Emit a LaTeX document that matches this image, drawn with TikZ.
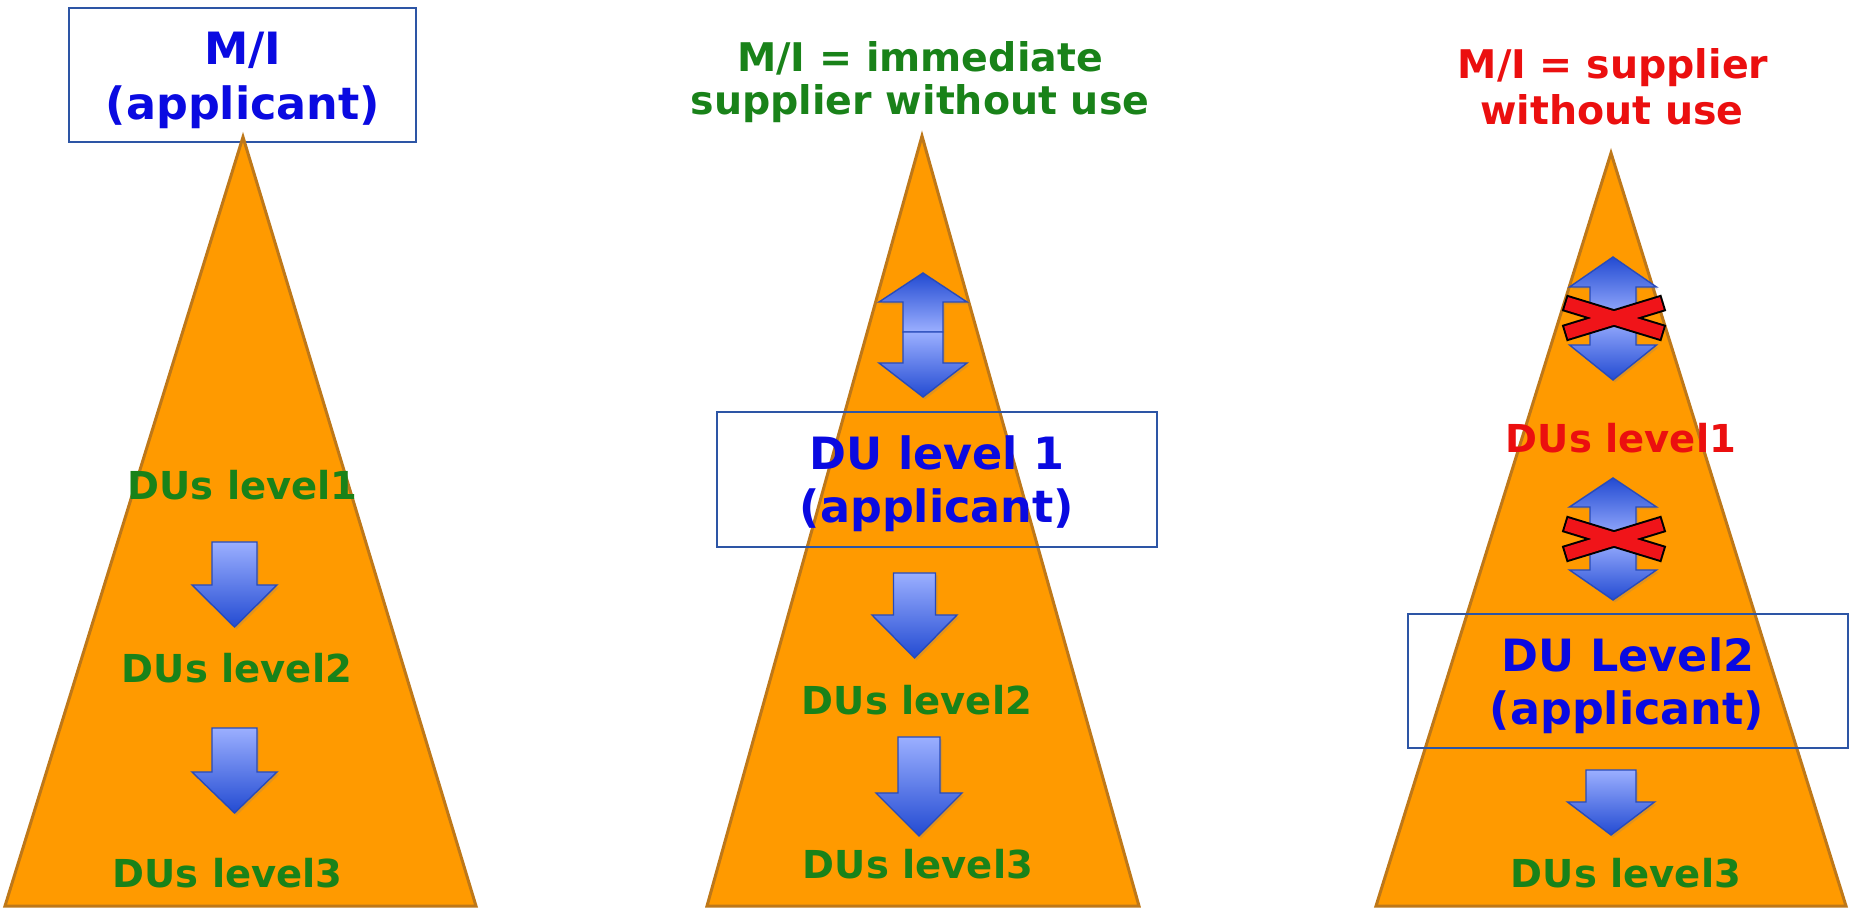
\documentclass[tikz,border=0pt]{standalone}
\usepackage{fontspec}
\setmainfont{DejaVu Sans}
\usetikzlibrary{shadows}
\definecolor{orfill}{RGB}{255,154,0}
\definecolor{orline}{RGB}{190,120,25}
\definecolor{boxline}{RGB}{45,85,165}
\definecolor{txtblue}{RGB}{10,10,225}
\definecolor{txtgreen}{RGB}{25,130,25}
\definecolor{txtred}{RGB}{235,15,15}
\definecolor{arrlight}{RGB}{155,175,255}
\definecolor{arrdark}{RGB}{35,75,210}
\definecolor{arrline}{RGB}{40,75,185}
\definecolor{xred}{RGB}{240,20,25}
\tikzset{
  tri/.style={fill=orfill, draw=orline, line width=1.5pt, line join=miter},
  frame/.style={draw=boxline, line width=1.2pt, inner sep=0pt},
  dnarrow/.style={draw=arrline, line width=0.7pt, top color=arrlight, bottom color=arrdark,
    drop shadow={opacity=0.25, shadow xshift=1pt, shadow yshift=-1.2pt}},
  uparrow/.style={draw=arrline, line width=0.7pt, top color=arrdark, bottom color=arrlight,
    drop shadow={opacity=0.25, shadow xshift=1pt, shadow yshift=-1.2pt}},
  boxtxt/.style={anchor=base, inner sep=0pt, text=txtblue, font=\fontsize{22.25}{26}\selectfont\bfseries},
  lbl/.style={anchor=base, inner sep=0pt, font=\fontsize{19.25}{23}\selectfont\bfseries},
  captxt/.style={anchor=base, inner sep=0pt, font=\fontsize{19.75}{23}\selectfont\bfseries},
  xbar/.style={line width=2pt, draw=black},
}
% style, cx, tail y, head base y, tip y, half shaft, half head
\newcommand\barrow[7]{%
  \path[#1] ({#2-#6},#3) -- ({#2-#6},#4) -- ({#2-#7},#4) -- (#2,#5) -- ({#2+#7},#4)
    -- ({#2+#6},#4) -- ({#2+#6},#3) -- cycle;}
\newcommand\crossmark[2]{%
  \begin{scope}[shift={(#1,#2)}]
    \draw[xbar, rotate=17] (-50,-6.5) rectangle (50,6.5);
    \draw[xbar, rotate=-17] (-50,-6.5) rectangle (50,6.5);
    \fill[xred, rotate=17] (-50,-6.5) rectangle (50,6.5);
    \fill[xred, rotate=-17] (-50,-6.5) rectangle (50,6.5);
  \end{scope}}
\begin{document}
\begin{tikzpicture}[x=0.5pt, y=-0.5pt]
\useasboundingbox (0,0) rectangle (1854,908);
% box 1 (white, behind apex)
\node[frame, fill=white, minimum width=173.5pt, minimum height=67pt] (box1) at (242.5,75) {};
% triangles
\coordinate (a1) at (243,137); \coordinate (l1) at (5,906); \coordinate (r1) at (476,906);
\coordinate (a2) at (922,136); \coordinate (l2) at (707,906); \coordinate (r2) at (1139,906);
\coordinate (a3) at (1611,153); \coordinate (l3) at (1376,906); \coordinate (r3) at (1846,906);
\draw[tri] (a1) -- (r1) -- (l1) -- cycle;
\draw[tri] (a2) -- (r2) -- (l2) -- cycle;
\draw[tri] (a3) -- (r3) -- (l3) -- cycle;
% arrows, pyramid 1
\barrow{dnarrow}{234.5}{542}{585}{627}{22.5}{42.5}
\barrow{dnarrow}{234.5}{728}{772}{813}{22.5}{42.5}
% pyramid 2
\barrow{uparrow}{923}{332}{302}{273}{20}{44}
\barrow{dnarrow}{923}{332}{363}{397}{20}{44}
\barrow{dnarrow}{914.5}{573}{615}{658}{21}{42.5}
\barrow{dnarrow}{919}{737}{793}{836}{21}{43}
% pyramid 3
\barrow{uparrow}{1613}{318}{287}{257}{23}{43.5}
\barrow{dnarrow}{1613}{318}{345}{380}{23}{43.5}
\crossmark{1614}{318}
\barrow{uparrow}{1613}{539}{507}{478}{23}{43.5}
\barrow{dnarrow}{1613}{539}{570}{600}{23}{43.5}
\crossmark{1614}{539}
\barrow{dnarrow}{1611}{770}{802}{835}{25}{43.5}
% frames over pyramids
\node[frame, minimum width=220pt, minimum height=67.5pt] (box2) at (937,479.5) {};
\node[frame, minimum width=220pt, minimum height=67pt] (box3) at (1628,681) {};
% box texts
\node[boxtxt] (b1a) at (243,65) {M/I};
\node[boxtxt] (b1b) at (243,120) {(applicant)};
\node[boxtxt] (b2a) at (937,470) {DU level 1};
\node[boxtxt] (b2b) at (937,523) {(applicant)};
\node[boxtxt] (b3a) at (1628,672) {DU Level2};
\node[boxtxt] (b3b) at (1627,725) {(applicant)};
% captions
\node[captxt, text=txtgreen] (c2a) at (920,72) {M/I = immediate};
\node[captxt, text=txtgreen] (c2b) at (920,115) {supplier without use};
\node[captxt, text=txtred] (c3a) at (1613,79) {M/I = supplier};
\node[captxt, text=txtred] (c3b) at (1612,125) {without use};
% level labels
\node[lbl, text=txtgreen] (t1a) at (242.5,500) {DUs level1};
\node[lbl, text=txtgreen] (t1b) at (237,683) {DUs level2};
\node[lbl, text=txtgreen] (t1c) at (227.5,887) {DUs level3};
\node[lbl, text=txtgreen] (t2b) at (917,715) {DUs level2};
\node[lbl, text=txtgreen] (t2c) at (918,878) {DUs level3};
\node[lbl, text=txtred] (t3a) at (1621,453) {DUs level1};
\node[lbl, text=txtgreen] (t3c) at (1626,887) {DUs level3};
\end{tikzpicture}
\end{document}
